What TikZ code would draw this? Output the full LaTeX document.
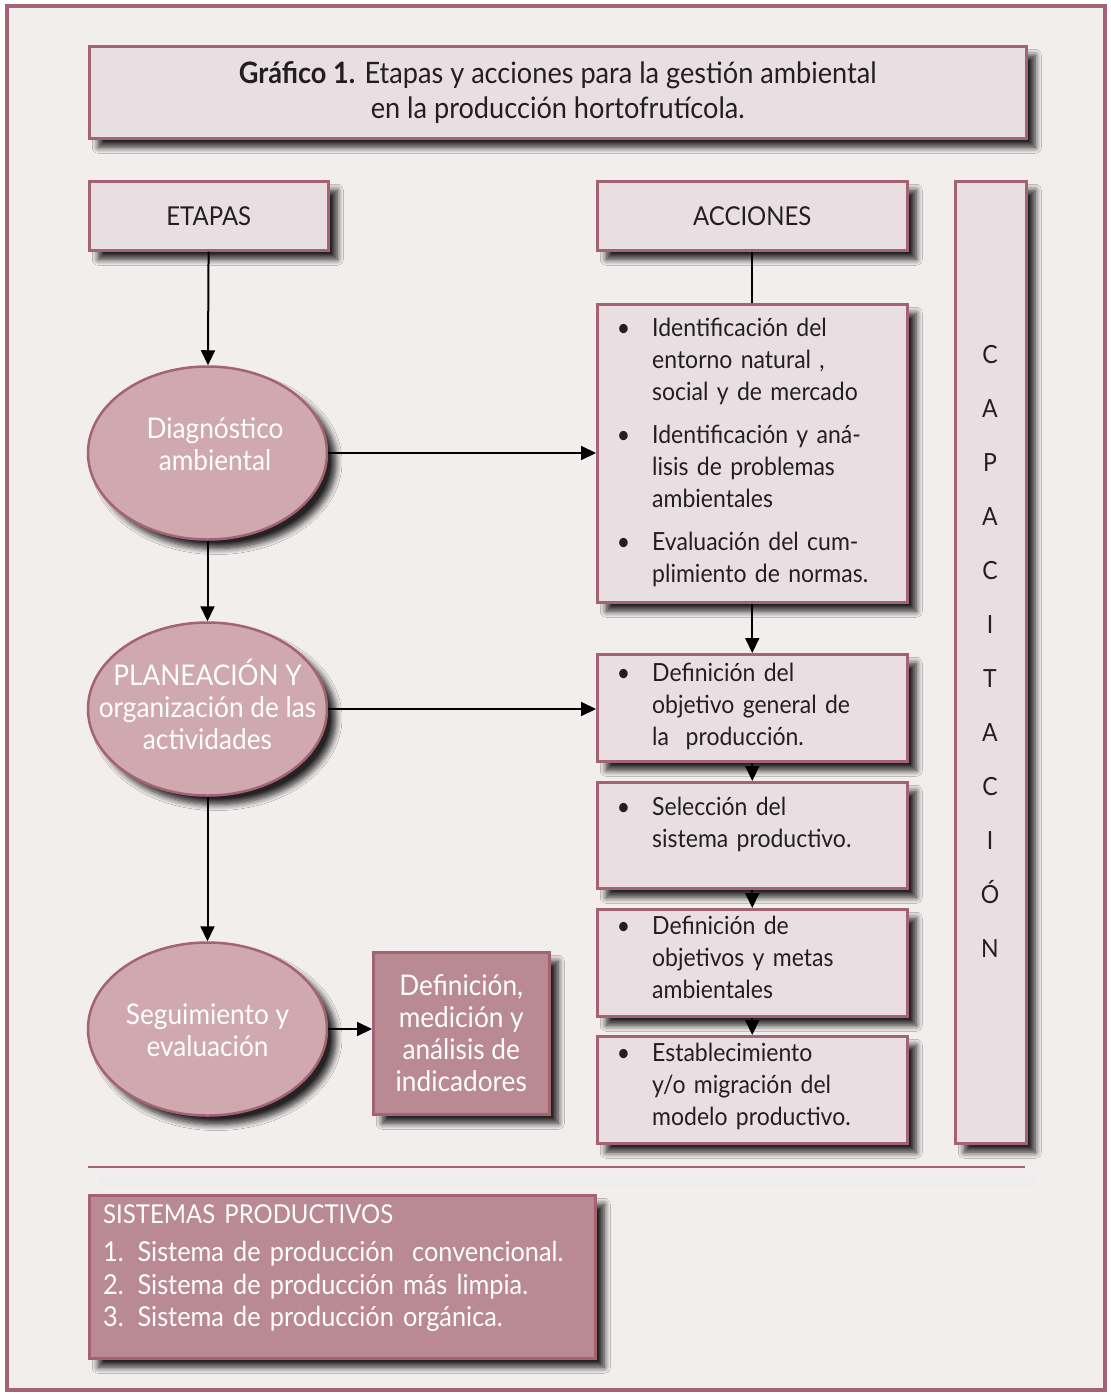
\documentclass[tikz,border=0pt]{standalone}
\usepackage{fontspec}
\setmainfont[FakeStretch=0.92]{Lato}
\usetikzlibrary{positioning,shadows,shadows.blur,arrows.meta,shapes.geometric}
\definecolor{frame}{RGB}{164,99,116}
\definecolor{bgpaper}{RGB}{243,238,238}
\definecolor{boxfill}{RGB}{233,222,225}
\definecolor{ellfill}{RGB}{207,168,176}
\definecolor{darkfill}{RGB}{186,138,148}
\definecolor{ink}{RGB}{35,31,32}
\newcommand{\bodyfont}{\fontsize{25}{32}\selectfont}
\newcommand{\whitefont}{\fontsize{28.5}{32}\selectfont}
\newcommand{\itm}{\noindent\llap{\textbullet\hspace{22pt}}}
\tikzset{
  shad/.style={blur shadow={shadow xshift=9pt,shadow yshift=-9pt,shadow blur radius=6pt,shadow blur steps=8,shadow opacity=85}},
  box/.style={draw=frame,line width=2.5pt,fill=boxfill,inner sep=0pt,anchor=north west,shad,text=ink,font=\bodyfont,align=center},
  ell/.style={ellipse,draw=frame,line width=2.5pt,fill=ellfill,inner sep=0pt,shad,minimum width=239pt,minimum height=173pt},
  elltext/.style={text=white,font=\whitefont,align=center,inner sep=0pt},
  acctext/.style={anchor=north west,inner sep=0pt,text width=272pt,align=left,font=\bodyfont,text=ink},
  arr/.style={line width=2pt,-{Triangle[length=15pt,width=14pt]}},
}
\begin{document}
\begin{tikzpicture}[x=1pt,y=1pt,yscale=-1]
\useasboundingbox (0,0) rectangle (1111,1395);
% background and frame
\draw[frame,line width=4pt,fill=bgpaper] (7,6) rectangle (1105,1390);

% Text Node
\node[box,minimum width=937pt,minimum height=92pt,font=\fontsize{29.5}{35}\selectfont] (title) at (88,45)
  {\textbf{Gráfico 1.} Etapas y acciones para la gestión ambiental\\en la producción hortofrutícola.};
\node[box,minimum width=239pt,minimum height=69pt,font=\fontsize{26}{32}\selectfont] (etapas) at (88,180) {ETAPAS};
\node[box,minimum width=310pt,minimum height=69pt,font=\fontsize{26}{32}\selectfont] (acciones) at (596,180) {ACCIONES};
\node[box,minimum width=71pt,minimum height=962pt] (capac) at (954,180) {};
\node[font=\fontsize{25}{54}\selectfont,text=ink,align=center] (capt) at (990,651)
  {C\\A\\P\\A\\C\\I\\T\\A\\C\\I\\Ó\\N};

% Etapas
\node[ell] (diag) at (207.5,453) {};
\node[ell] (plan) at (207.5,709) {};
\node[ell] (segui) at (207.5,1029) {};
\node[elltext] (diagt) at (215,444) {Diagnóstico\\ambiental};
\node[elltext] (plant) at (207.5,704) {PLANEACIÓN Y\\organización de las\\actividades};
\node[elltext] (seguit) at (207.5,1030) {Seguimiento y\\evaluación};
\node[box,minimum width=176pt,minimum height=162pt,fill=darkfill,text=white,font=\whitefont] (indic) at (372,951)
  {Definición,\\medición y\\análisis de\\indicadores};

% Acciones
\node[box,minimum width=310pt,minimum height=298pt] (b1) at (596,303) {};
\node[box,minimum width=310pt,minimum height=107pt] (b2) at (596,653) {};
\node[box,minimum width=310pt,minimum height=106pt] (b3) at (596,781) {};
\node[box,minimum width=310pt,minimum height=107pt] (b4) at (596,908) {};
\node[box,minimum width=310pt,minimum height=107pt] (b5) at (596,1035) {};
\node[acctext,below right=15pt and 29pt of b1.north west] (t1) {\leftskip=27pt
  \itm Identificación del\newline entorno natural ,\newline social y de mercado\par\vspace{11pt}
  \itm Identificación y aná-\newline lisis de problemas\newline ambientales\par\vspace{11pt}
  \itm Evaluación del cum-\newline plimiento de normas.\par};
\node[acctext,below right=10pt and 29pt of b2.north west] (t2) {\leftskip=27pt
  \itm Definición del\newline objetivo general de\newline la~ producción.\par};
\node[acctext,below right=16pt and 29pt of b3.north west] (t3) {\leftskip=27pt
  \itm Selección del\newline sistema productivo.\par};
\node[acctext,below right=8pt and 29pt of b4.north west] (t4) {\leftskip=27pt
  \itm Definición de\newline objetivos y metas\newline ambientales\par};
\node[acctext,below right=8pt and 29pt of b5.north west] (t5) {\leftskip=27pt
  \itm Establecimiento\newline y/o migración del\newline modelo productivo.\par};

%Straight Lines
\draw[arr] (etapas) -- (diag);
\draw[arr] (diag) -- (plan);
\draw[arr] (plan) -- (segui);
\draw[arr] (diag.east) -- (diag.east -| b1.west);
\draw[arr] (plan.east) -- (plan.east -| b2.west);
\draw[arr] (segui.east) -- (segui.east -| indic.west);
\draw[line width=2pt] (acciones) -- (b1);
\draw[arr] (b1) -- (b2);
\draw[arr] (b2) -- (b3);
\draw[arr] (b3) -- (b4);
\draw[arr] (b4) -- (b5);

% separator
\fill[black!7] (98,1176) rectangle (1035,1186);
\draw[frame,line width=2pt] (88,1167) -- (1025,1167);

% Sistemas productivos
\node[box,minimum width=506pt,minimum height=163pt,fill=darkfill] (sist) at (88,1194) {};
\node[acctext,text=white,text width=490pt,font=\fontsize{27.5}{32.5}\selectfont,below right=10pt and 15pt of sist.north west] (sistt)
  {{\fontsize{26}{32}\selectfont SISTEMAS PRODUCTIVOS}\\[6pt]
   1. Sistema de producción~ convencional.\\
   2. Sistema de producción más limpia.\\
   3. Sistema de producción orgánica.};
\end{tikzpicture}
\end{document}
